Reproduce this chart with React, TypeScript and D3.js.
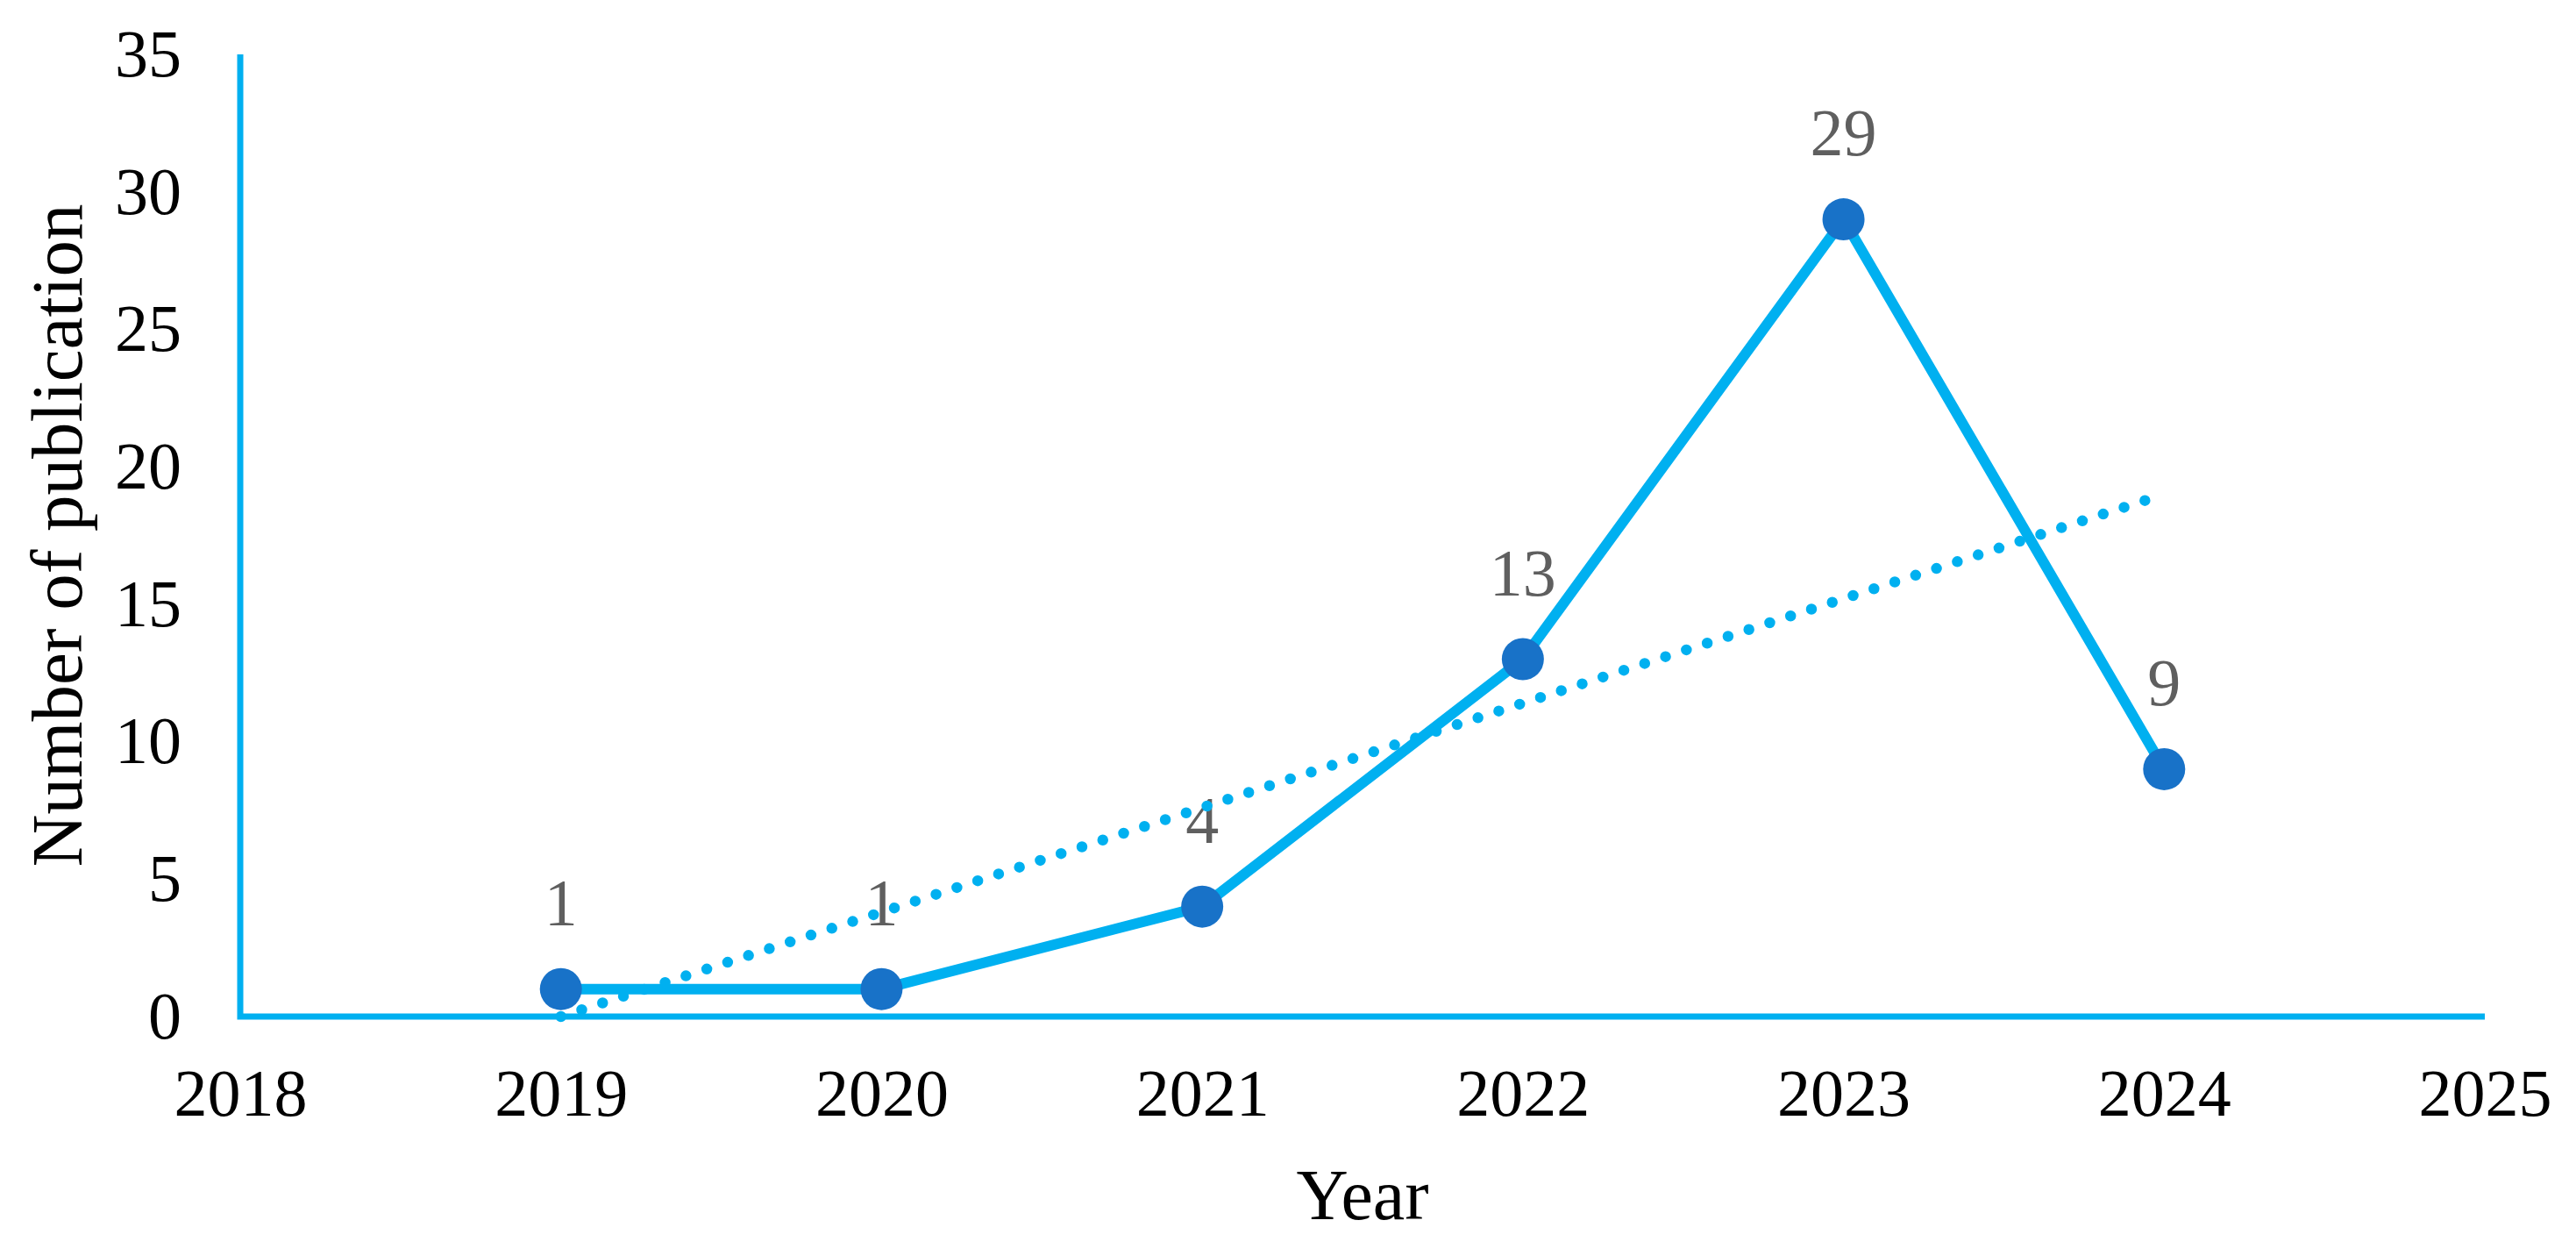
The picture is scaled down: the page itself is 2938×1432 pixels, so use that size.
import { useEffect, useRef } from "react";
import * as d3 from "d3";

const years = [2019, 2020, 2021, 2022, 2023, 2024];
const publications = [1, 1, 4, 13, 29, 9];
const xTicks = [2018, 2019, 2020, 2021, 2022, 2023, 2024, 2025];
const yTicks = [0, 5, 10, 15, 20, 25, 30, 35];

const W = 2938;
const H = 1432;
const FONT = '"Times New Roman", "Liberation Serif", serif';

export default function App() {
  const svgRef = useRef<SVGSVGElement | null>(null);

  useEffect(() => {
    if (!svgRef.current) return;
    const svg = d3.select(svgRef.current);
    svg.selectAll("*").remove();

    const x = d3.scaleLinear().domain([2018, 2025]).range([274, 2834]);
    const y = d3.scaleLinear().domain([0, 35]).range([1159, 62]);
    const data = years.map((yr, i) => ({ year: yr, value: publications[i] }));

    // axes (labels only, lines drawn below as one path)
    const xAxis = d3.axisBottom(x).tickValues(xTicks).tickSize(0).tickPadding(59).tickFormat(d3.format("d"));
    const yAxis = d3.axisLeft(y).tickValues(yTicks).tickSize(0).tickPadding(67);

    const gx = svg.append("g").attr("transform", `translate(0, ${y(0)})`).call(xAxis);
    const gy = svg.append("g").attr("transform", `translate(${x(2018)}, 0)`).call(yAxis);
    [gx, gy].forEach((g) => {
      g.select(".domain").remove();
      g.selectAll("text").attr("font-family", FONT).attr("font-size", 76).attr("fill", "#000");
    });

    svg.append("path")
      .attr("d", `M${x(2018)},${y(35)}V${y(0)}H${x(2025)}`)
      .attr("fill", "none")
      .attr("stroke", "#00B0F0")
      .attr("stroke-width", 7)
      .attr("stroke-linejoin", "miter");

    // titles
    svg.append("text")
      .attr("x", (x(2018) + x(2025)) / 2)
      .attr("y", 1390)
      .attr("text-anchor", "middle")
      .attr("font-family", FONT)
      .attr("font-size", 82)
      .text("Year");

    svg.append("text")
      .attr("transform", `translate(93, ${(y(0) + y(35)) / 2}) rotate(-90)`)
      .attr("text-anchor", "middle")
      .attr("font-family", FONT)
      .attr("font-size", 83)
      .text("Number of publication");

    // series line
    const line = d3.line<{ year: number; value: number }>()
      .x((d) => x(d.year))
      .y((d) => y(d.value));

    svg.append("path")
      .datum(data)
      .attr("fill", "none")
      .attr("stroke", "#00B0F0")
      .attr("stroke-width", 12)
      .attr("stroke-linejoin", "round")
      .attr("d", line);

    // data labels
    svg.append("g")
      .selectAll("text")
      .data(data)
      .join("text")
      .attr("x", (d) => x(d.year))
      .attr("y", (d) => y(d.value) - 73)
      .attr("text-anchor", "middle")
      .attr("font-family", FONT)
      .attr("font-size", 76)
      .attr("fill", "#5f5f5f")
      .text((d) => d.value);

    // linear trendline (least squares)
    const mx = d3.mean(years) as number;
    const my = d3.mean(publications) as number;
    const slope = d3.sum(years, (yr, i) => (yr - mx) * (publications[i] - my)) /
      d3.sum(years, (yr) => (yr - mx) ** 2);
    const trend = [years[0], years[years.length - 1]].map((yr) => ({ year: yr, value: my + slope * (yr - mx) }));

    svg.append("path")
      .datum(trend)
      .attr("fill", "none")
      .attr("stroke", "#00B0F0")
      .attr("stroke-width", 12.5)
      .attr("stroke-linecap", "round")
      .attr("stroke-dasharray", "0 25")
      .attr("d", line);

    // markers
    svg.append("g")
      .selectAll("circle")
      .data(data)
      .join("circle")
      .attr("cx", (d) => x(d.year))
      .attr("cy", (d) => y(d.value))
      .attr("r", 24)
      .attr("fill", "#1872C8");
  }, []);

  return (
    <div style={{ position: "absolute", left: 0, top: 0 }}>
      <svg ref={svgRef} width={W} height={H} style={{ display: "block", background: "#fff" }}></svg>
    </div>
  );
}
